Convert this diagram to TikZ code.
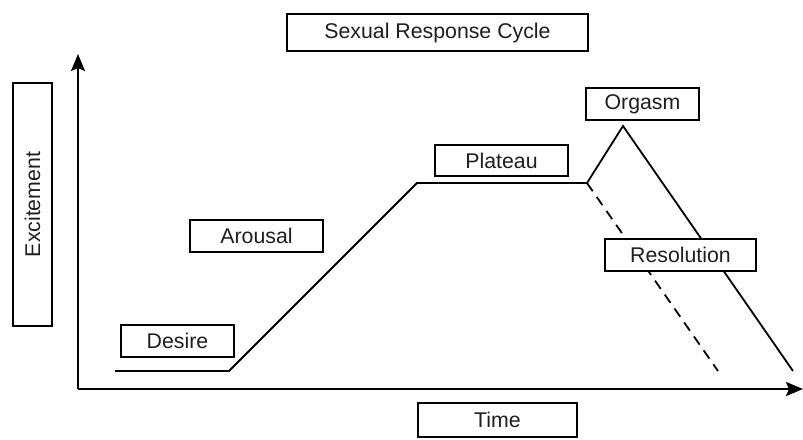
\documentclass[tikz,border=0pt]{standalone}
\usepackage{fontspec}
\setmainfont{Liberation Sans}
\usetikzlibrary{arrows.meta}
\begin{document}
\begin{tikzpicture}[x=1pt,y=-1pt,
  lbl/.style={draw, line width=1.6pt, fill=white, inner sep=0pt, font=\fontsize{21.3}{25}\selectfont, text=black!88},
  curveline/.style={line width=1.8pt, line join=miter},
  axisline/.style={line width=2.2pt, -{Stealth[length=17pt,width=14pt,inset=3pt]}}]
\useasboundingbox (0,0) rectangle (803,439);
% axes
\coordinate (O) at (78,389);
\coordinate (Ytop) at (78,54);
\coordinate (Xend) at (803,389);
\draw[axisline] (O) -- (Ytop);
\draw[axisline] (O) -- (Xend);
% curve
\coordinate (c0) at (115,371);
\coordinate (c1) at (229,371);
\coordinate (c2) at (417,183);
\coordinate (c3) at (587,183);
\coordinate (c4) at (623,126);
\coordinate (c5) at (793,371);
\coordinate (d1) at (718,371);
\draw[curveline] (c0) -- (c1) -- (c2) -- (c3) -- (c4) -- (c5);
\draw[curveline, dash pattern=on 10pt off 7pt] (c3) -- (d1);
% labels
\node[lbl, minimum width=301pt, minimum height=37pt] (title) at (437.5,32.5) {Sexual Response Cycle};
\node[lbl, rotate=90, minimum width=243pt, minimum height=39pt] (excite) at (32.5,204.5) {Excitement};
\node[lbl, minimum width=113pt, minimum height=32pt] (desire) at (177.5,341) {Desire};
\node[lbl, minimum width=133pt, minimum height=32pt] (arousal) at (256.5,236) {Arousal};
\node[lbl, minimum width=133pt, minimum height=31pt] (plateau) at (501.5,160.5) {Plateau};
\node[lbl, minimum width=113pt, minimum height=32pt] (orgasm) at (642.5,104) {Orgasm};
\node[lbl, minimum width=151pt, minimum height=32pt] (resol) at (680.5,255) {Resolution};
\node[lbl, minimum width=159pt, minimum height=34pt] (time) at (497.5,420) {Time};
\end{tikzpicture}
\end{document}
